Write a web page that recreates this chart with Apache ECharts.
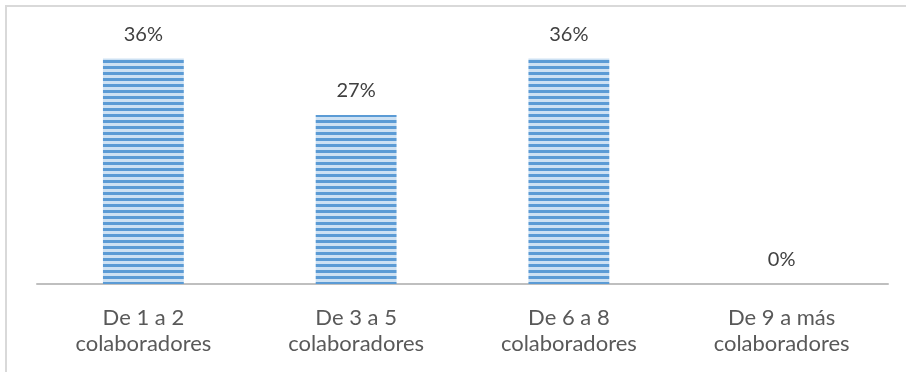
<!DOCTYPE html>
<html>
<head>
<meta charset="utf-8">
<script src="https://cdn.jsdelivr.net/npm/echarts@6/dist/echarts.min.js"></script>
<style>
html,body{margin:0;padding:0;background:#fff;}
#frame{position:absolute;left:5px;top:5px;width:910px;height:380px;border:2px solid #d9d9d9;box-sizing:border-box;}
#c{position:absolute;left:0;top:0;width:906px;height:372px;}
</style>
</head>
<body>
<div id="frame"></div>
<div id="c"></div>
<script>
const categories = ["De 1 a 2\ncolaboradores", "De 3 a 5\ncolaboradores", "De 6 a 8\ncolaboradores", "De 9 a más\ncolaboradores"];
const values = [36.36, 27.27, 36.36, 0];

const pc = document.createElement('canvas');
pc.width = 4; pc.height = 6;
const ctx = pc.getContext('2d');
ctx.fillStyle = '#cde1f3'; ctx.fillRect(0, 0, 4, 6);
ctx.fillStyle = '#5b9bd5'; ctx.fillRect(0, 0, 4, 3);

const chart = echarts.init(document.getElementById('c'), null, {renderer: 'canvas'});
chart.setOption({
  animation: false,
  grid: {left: 37, right: 18, top: 36, bottom: 88},
  xAxis: {
    type: 'category',
    data: categories,
    axisLine: {lineStyle: {color: '#bfbfbf', width: 2}},
    axisTick: {show: false},
    axisLabel: {color: '#595959', fontFamily: 'Lato', fontSize: 22, lineHeight: 26, margin: 21}
  },
  yAxis: {type: 'value', min: 0, max: 40, show: false, splitLine: {show: false}},
  series: [{
    type: 'bar',
    data: values,
    barWidth: '38%',
    itemStyle: {color: {image: pc, repeat: 'repeat'}},
    label: {
      show: true, position: 'top', distance: 14,
      color: '#404040', fontFamily: 'Lato', fontSize: 20,
      formatter: p => Math.round(p.value) + '%'
    }
  }]
});
</script>
</body>
</html>
